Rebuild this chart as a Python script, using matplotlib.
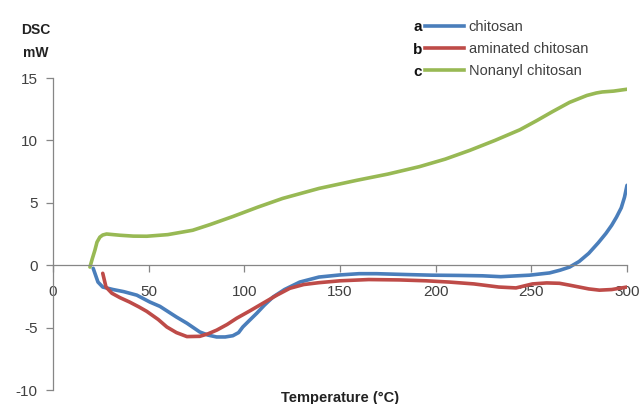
import matplotlib.pyplot as plt
from matplotlib.lines import Line2D

plt.rcParams['font.family'] = ['Liberation Sans', 'DejaVu Sans']
plt.rcParams['axes.unicode_minus'] = False

# chitosan (a)
t_a = [21, 23.5, 26, 31.4, 37, 43.8, 50.6, 55.9, 64.5, 70, 76.7, 81, 85.5, 90,
       94, 97, 99.2, 102.5, 106.5, 110.5, 115, 121, 129, 139, 150, 160, 169,
       185, 198, 212, 224.5, 234, 249, 259.5, 265, 270, 275, 280, 285, 289,
       292, 294.5, 297, 298.7, 300]
dsc_a = [-0.25, -1.35, -1.75, -1.95, -2.12, -2.4, -2.95, -3.3, -4.15, -4.65,
         -5.35, -5.6, -5.75, -5.75, -5.65, -5.4, -4.95, -4.45, -3.85, -3.2,
         -2.55, -1.95, -1.35, -0.95, -0.78, -0.68, -0.68, -0.75, -0.8, -0.82,
         -0.85, -0.92, -0.8, -0.62, -0.4, -0.15, 0.3, 0.95, 1.8, 2.55, 3.2, 3.85,
         4.6, 5.45, 6.4]
# aminated chitosan (b)
t_b = [26, 27.7, 30.8, 35, 40, 45, 49, 55, 59.5, 64.5, 70, 76.7, 81, 85.6, 91,
       96, 103, 109.7, 117, 123.8, 131, 139, 150, 165, 181, 195, 207, 220, 233,
       242, 250.6, 258, 264.7, 270, 275, 280, 285.6, 292, 300]
dsc_b = [-0.65, -1.75, -2.25, -2.6, -2.95, -3.35, -3.7, -4.35, -4.95, -5.4,
         -5.72, -5.7, -5.5, -5.2, -4.75, -4.25, -3.65, -3.05, -2.4, -1.85, -1.55,
         -1.4, -1.25, -1.15, -1.18, -1.25, -1.35, -1.5, -1.75, -1.82, -1.5,
         -1.42, -1.45, -1.6, -1.75, -1.9, -2.0, -1.95, -1.75]
# nonanyl chitosan (c)
t_c = [19.3, 20.5, 21.9, 23, 24.5, 26, 28, 35, 42, 49, 60, 73, 82, 94, 107,
       120, 139, 158.7, 175, 191.6, 205, 217.8, 231, 244, 253, 261, 270, 279,
       284, 287, 293, 300]
dsc_c = [-0.15, 0.5, 1.2, 1.85, 2.25, 2.42, 2.5, 2.4, 2.33, 2.32, 2.45, 2.8,
         3.25, 3.9, 4.65, 5.35, 6.15, 6.8, 7.3, 7.9, 8.5, 9.2, 10.0, 10.85, 11.6,
         12.3, 13.05, 13.6, 13.8, 13.88, 13.95, 14.1]

labels = ["chitosan", "aminated chitosan", "Nonanyl chitosan"]
letters = ["a", "b", "c"]
colors = ["#4A7EBB", "#BE4B48", "#98B954"]

fig = plt.figure(figsize=(6.42, 4.04), dpi=100)
ax = fig.add_axes([53/642, 14/404, 574/642, 312/404])

for t, d, c in zip([t_a, t_b, t_c], [dsc_a, dsc_b, dsc_c], colors):
    ax.plot(t, d, color=c, lw=2.6, solid_capstyle='round', solid_joinstyle='round')

ax.set_xlim(0, 300)
ax.set_ylim(-10, 15)
ax.set_xticks([0, 50, 100, 150, 200, 250, 300])
ax.set_yticks([-10, -5, 0, 5, 10, 15])
ax.spines['top'].set_visible(False)
ax.spines['right'].set_visible(False)
ax.spines['bottom'].set_position(('data', 0))
for s in ['left', 'bottom']:
    ax.spines[s].set_color('#868686')
    ax.spines[s].set_linewidth(0.9)
ax.tick_params(axis='both', colors='#868686', labelcolor='#404040', labelsize=11,
               length=5, width=0.9)
ax.tick_params(axis='x', pad=9)
ax.tick_params(axis='y', pad=6)

fig.text(36/642, 1 - 30/404, "DSC", ha='center', va='center', fontsize=10,
         fontweight='bold', color='#222222')
fig.text(36/642, 1 - 53/404, "mW", ha='center', va='center', fontsize=10,
         fontweight='bold', color='#222222')
fig.text(340/642, 1 - 398/404, "Temperature (°C)", ha='center', va='center',
         fontsize=10.5, fontweight='bold', color='#222222')

handles = [Line2D([], [], color=c, lw=2.6) for c in colors]
ax.legend(handles, labels, loc='upper left', bbox_to_anchor=(425/642, 1 - 20/404),
          bbox_transform=fig.transFigure, frameon=False, fontsize=10.5,
          handlelength=2.7, handletextpad=0.3, labelspacing=0.55,
          borderpad=0, borderaxespad=0, labelcolor='#404040')
for i, l in enumerate(letters):
    fig.text(418/642, 1 - (27 + 22.5*i)/404, l, ha='center', va='center',
             fontsize=11, fontweight='bold', color='#111111')

fig.savefig("out.png", dpi=100)
